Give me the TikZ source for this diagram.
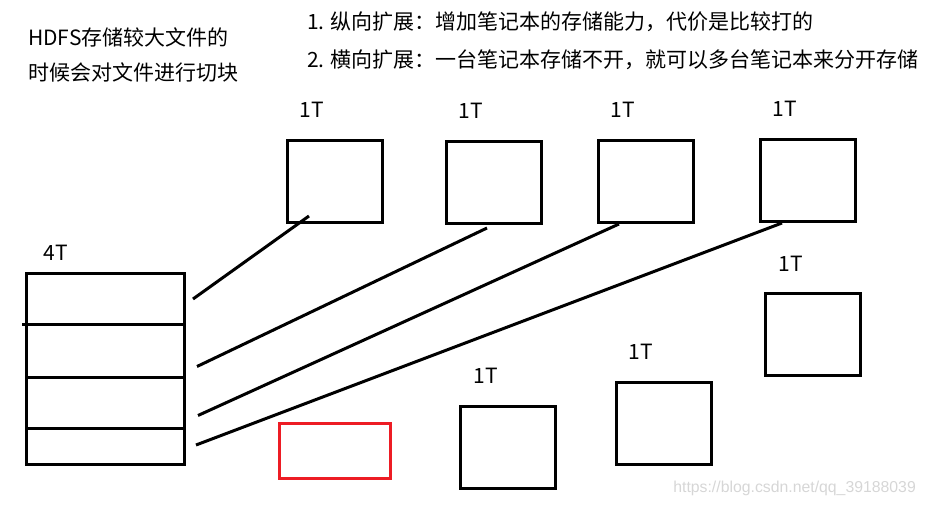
\documentclass[tikz,border=0pt]{standalone}
\usepackage{fontspec}
\setmainfont{Noto Sans CJK SC}
\newfontfamily\markfont{Liberation Sans}
\usetikzlibrary{calc}
\definecolor{paintred}{RGB}{237,28,36}

\begin{document}
\begin{tikzpicture}[x=1pt,y=-1pt,
  disk/.style={draw,line width=3pt,minimum width=95pt,minimum height=82pt,inner sep=0pt},
  seg/.style={line width=3pt},
  tag/.style={inner sep=0pt,font=\fontsize{21}{25}\selectfont}]
\useasboundingbox (0,0) rectangle (925,506);

\node[tag,anchor=west] (noteA) at (28,37) {HDFS存储较大文件的};
\node[tag,anchor=west] (noteB) at (28,72) {时候会对文件进行切块};
\node[tag,anchor=west] (wayA) at (307,22) {1. 纵向扩展：增加笔记本的存储能力，代价是比较打的};
\node[tag,anchor=west] (wayB) at (307,60) {2. 横向扩展：一台笔记本存储不开，就可以多台笔记本来分开存储};

\node[draw,line width=3pt,minimum width=158pt,minimum height=191pt,inner sep=0pt] (file) at (105.5,368.5) {};
\draw[seg] (22,324) -- (185,324);
\draw[seg] (26,377) -- (185,377);
\draw[seg] (26,428.5) -- (183.5,428.5);
\node[tag] (size) at (56,253) {4T};

\node[disk] (d1) at (334.5,181) {};
\node[disk] (d2) at (493.5,182) {};
\node[disk] (d3) at (646,181.5) {};
\node[disk] (d4) at (808,180) {};
\node[disk] (d5) at (813,334) {};
\node[disk] (d6) at (508,447.5) {};
\node[disk] (d7) at (664,423.5) {};
\node[disk,draw=paintred,minimum width=111pt,minimum height=55pt] (spare) at (335,450.5) {};

\node[tag] (s1) at (312,110) {1T};
\node[tag] (s2) at (471,111) {1T};
\node[tag] (s3) at (623,110) {1T};
\node[tag] (s4) at (785,108.5) {1T};
\node[tag] (s5) at (790.5,264) {1T};
\node[tag] (s6) at (485.5,376) {1T};
\node[tag] (s7) at (641,352) {1T};

\coordinate (f1) at (193,299);
\coordinate (f2) at (197,366.5);
\coordinate (f3) at (198,415.5);
\coordinate (f4) at (196,445);

\draw[seg] (f1) -- ($(d1.south)+(-25.5,-7.5)$);
\draw[seg] (f2) -- ($(d2.south)+(-6.5,3.5)$);
\draw[seg] (f3) -- ($(d3.south)+(-27,0)$);
\draw[seg] (f4) -- ($(d4.south)+(-26,0.5)$);

\node[anchor=east,inner sep=0pt,text=black!16,font=\markfont\fontsize{15.8}{18}\selectfont] (mark) at (916,488) {https://blog.csdn.net/qq\_39188039};

\end{tikzpicture}
\end{document}
